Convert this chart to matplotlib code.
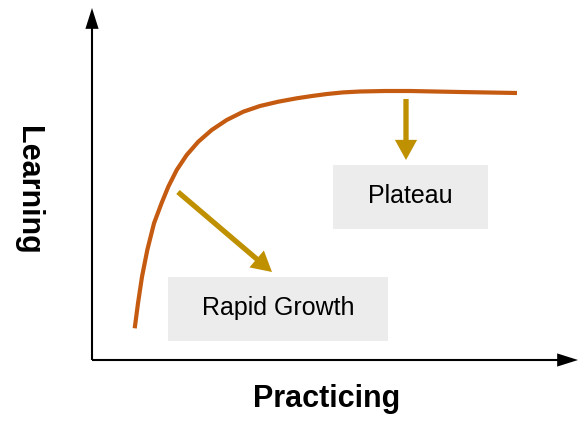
import matplotlib
matplotlib.use("Agg")
import matplotlib.pyplot as plt
from matplotlib.patches import Rectangle

plt.rcParams['font.family'] = ['Liberation Sans', 'DejaVu Sans']

# Learning curve (practice vs learning)
practice = [42.7, 46, 50, 55.3, 62, 69.5, 76.3, 84.7, 94.7, 106.3, 119.7, 134.7, 151.3, 168,
            186.3, 204.7, 220, 235, 251, 268, 293, 318, 368, 425]
learning = [31.7, 56.7, 83.3, 110, 136.7, 156.7, 173.3, 190, 205, 218.3, 230, 240, 248.3, 254,
            258.3, 261.7, 264, 266, 267.6, 268.5, 269, 269, 268, 267]

labels = ["Rapid Growth", "Plateau"]
x_label = "Practicing"
y_label = "Learning"

W, H = 578, 423
fig = plt.figure(figsize=(W / 100, H / 100), dpi=100)
ax = fig.add_axes([92 / W, 63 / H, 486 / W, 352 / H])
ax.set_xlim(0, 486)
ax.set_ylim(0, 352)
ax.axis('off')

curve_color = '#C55A11'
arrow_color = '#BF9000'
box_color = '#ECECEC'

# axes with arrows
axis_style = dict(arrowstyle='simple,head_length=15,head_width=9.5,tail_width=1.5',
                  facecolor='black', edgecolor='none', lw=0, shrinkA=0, shrinkB=0, mutation_scale=1)
ax.annotate('', xy=(0, 352), xytext=(0, 0), arrowprops=axis_style, annotation_clip=False)
ax.annotate('', xy=(486, 0), xytext=(0, 0), arrowprops=axis_style, annotation_clip=False)

# curve
ax.plot(practice, learning, color=curve_color, lw=3.0, solid_capstyle='butt',
        solid_joinstyle='round', clip_on=False)

# boxes
ax.add_patch(Rectangle((76, 19), 220, 64, facecolor=box_color, edgecolor='none'))
ax.add_patch(Rectangle((241, 131), 155, 64, facecolor=box_color, edgecolor='none'))
ax.text(186, 52, labels[0], fontsize=18, ha='center', va='center', color='black')
ax.text(318, 164, labels[1], fontsize=18, ha='center', va='center', color='black')

# annotation arrows
arr_style = dict(arrowstyle='simple,head_length=14.5,head_width=16,tail_width=3.8',
                 facecolor=arrow_color, edgecolor='none', lw=0, shrinkA=0, shrinkB=0, mutation_scale=1)
ax.annotate('', xy=(180, 88), xytext=(86, 168), arrowprops=arr_style)
ax.annotate('', xy=(314, 200), xytext=(314, 261), arrowprops=arr_style)

fig.text(327 / W, 16 / H, x_label, fontsize=22, fontweight='bold', ha='center', va='baseline')
fig.text(28 / W, 1 - 190 / H, y_label, fontsize=22, fontweight='bold', ha='center', va='center',
         rotation=270)

fig.savefig('out.png', dpi=100)
